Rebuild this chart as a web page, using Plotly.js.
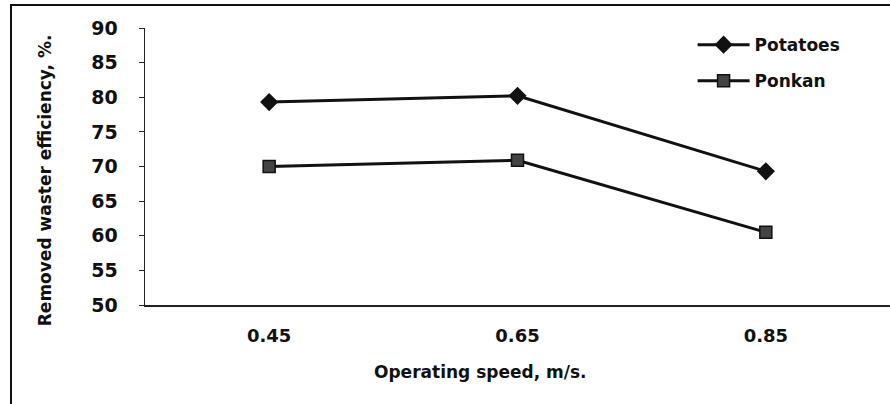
<!DOCTYPE html>
<html>
<head>
<meta charset="utf-8">
<script src="https://cdn.plot.ly/plotly-3.0.1.min.js"></script>
<style>
html,body{margin:0;padding:0;background:#fff;}
#wrap{position:relative;width:890px;height:404px;}
#chart{width:890px;height:404px;}
#frame{position:absolute;left:10px;top:4px;width:890px;height:410px;border-left:2px solid #111;border-top:2px solid #111;pointer-events:none;}
</style>
</head>
<body>
<div id="wrap"><div id="chart"></div><div id="frame"></div></div>
<script>
const speeds = ["0.45", "0.65", "0.85"];
const potatoes = [79.3, 80.2, 69.3];
const ponkan = [70.0, 70.9, 60.5];
const yTicks = [50, 55, 60, 65, 70, 75, 80, 85, 90];
const xTitle = "Operating speed, m/s.";
const yTitle = "Removed waster efficiency, %.";

const fam = "DejaVu Sans, Verdana, sans-serif";

const traces = [
  {x: speeds, y: potatoes, name: "Potatoes", legendgroup: "a", type: "scatter", mode: "lines+markers",
   line: {color: "#111", width: 3},
   marker: {symbol: "diamond", size: 14, color: "#111"}},
  {x: speeds, y: ponkan, name: "Ponkan", legendgroup: "b", type: "scatter", mode: "lines+markers",
   line: {color: "#111", width: 3},
   marker: {symbol: "square", size: 12, color: "#444", line: {color: "#111", width: 1.5}}}
];

const layout = {
  width: 890, height: 404,
  margin: {l: 145, r: 0, t: 28, b: 99},
  paper_bgcolor: "#fff", plot_bgcolor: "#fff",
  showlegend: true,
  legend: {x: 0.735, y: 1.003, xanchor: "left", yanchor: "top", bgcolor: "rgba(0,0,0,0)",
    font: {family: fam, size: 17, color: "#111", weight: "bold"}, tracegroupgap: 11, itemwidth: 52},
  xaxis: {type: "category", range: [-0.5, 2.5], showgrid: false, zeroline: false,
    showline: true, linecolor: "#222", linewidth: 1.5, ticks: "", ticklabelstandoff: 14,
    tickfont: {family: fam, size: 18, color: "#111", weight: "bold"}},
  yaxis: {range: [50, 90], tickvals: yTicks, showgrid: false, zeroline: false,
    showline: true, linecolor: "#222", linewidth: 1.5, ticks: "outside", ticklen: 5, tickcolor: "#222",
    ticklabelstandoff: 17,
    tickfont: {family: fam, size: 19, color: "#111", weight: "bold"}},
  annotations: [
    {text: xTitle, xref: "paper", yref: "paper", x: 0.45, y: -0.242,
     xanchor: "center", yanchor: "middle", showarrow: false,
     font: {family: fam, size: 17, color: "#111", weight: "bold"}},
    {text: yTitle, xref: "paper", yref: "paper", x: -0.134, y: 0.451, textangle: -90,
     xanchor: "center", yanchor: "middle", showarrow: false,
     font: {family: fam, size: 17, color: "#111", weight: "bold"}}
  ]
};

Plotly.newPlot("chart", traces, layout, {displayModeBar: false, staticPlot: true});
</script>
</body>
</html>
